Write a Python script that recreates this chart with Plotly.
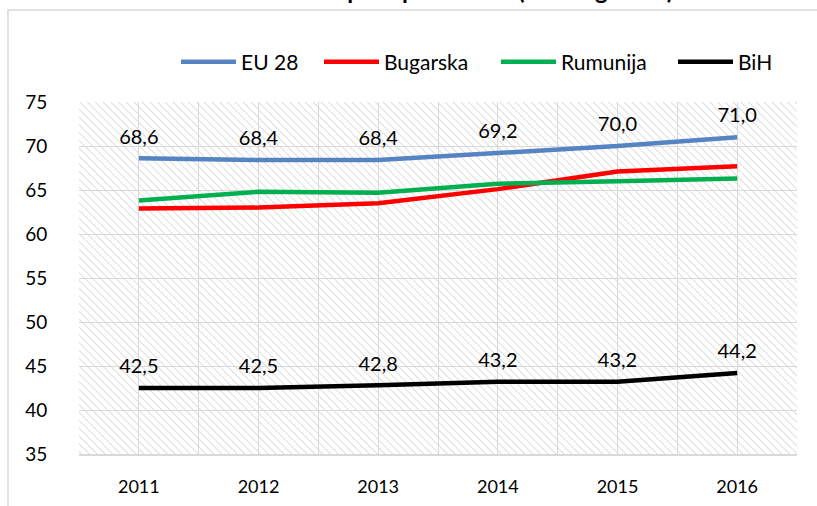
import base64
import plotly.graph_objects as go

years = [2011, 2012, 2013, 2014, 2015, 2016]
series_names = ["EU 28", "Bugarska", "Rumunija", "BiH"]
eu28 = [68.6, 68.4, 68.4, 69.2, 70.0, 71.0]
bugarska = [62.9, 63.0, 63.5, 65.1, 67.1, 67.7]
rumunija = [63.8, 64.8, 64.7, 65.7, 66.0, 66.3]
bih = [42.5, 42.5, 42.8, 43.2, 43.2, 44.2]
title_text = "Stopa zaposlenosti (20-64 godine)"

colors = ["#5683C2", "#FF0000", "#00B050", "#000000"]
labelled = [True, False, False, True]
values = [eu28, bugarska, rumunija, bih]
legend_ids = ["legend", "legend2", "legend3", "legend4"]
legend_left_px = [180, 323, 500, 677]

FONT = "Lato, 'Open Sans', sans-serif"
W, H = 817, 506

fig = go.Figure()
for name, vals, col, lab, lid in zip(series_names, values, colors, labelled, legend_ids):
    fig.add_trace(go.Scatter(
        x=years, y=vals, name=name, legend=lid,
        mode="lines+markers+text" if lab else "lines",
        line=dict(color=col, width=4.5),
        marker=dict(size=14, color="rgba(0,0,0,0)", line=dict(width=0)),
        text=[f"{v:.1f}".replace(".", ",") for v in vals] if lab else None,
        textposition="top center",
        textfont=dict(size=20, color="#000000", family=FONT),
        cliponaxis=False,
        hoverinfo="skip",
    ))

svg = ("<svg xmlns='http://www.w3.org/2000/svg' width='718' height='352'>"
       "<defs><pattern id='p' width='5.5' height='5.5' patternUnits='userSpaceOnUse' "
       "patternTransform='rotate(-45)'><line x1='0' y1='0' x2='0' y2='5.5' "
       "stroke='#d6d6d6' stroke-width='1.6'/></pattern></defs>"
       "<rect width='718' height='352' fill='url(#p)'/></svg>")
src = "data:image/svg+xml;base64," + base64.b64encode(svg.encode()).decode()

fig.add_layout_image(dict(
    source=src, xref="paper", yref="paper", x=0, y=1, sizex=1, sizey=1,
    xanchor="left", yanchor="top", sizing="stretch", layer="below",
))

# outer chart frame (extends past the window edges)
fig.add_shape(type="rect", xref="paper", yref="paper",
              x0=-0.0989, x1=1.3, y0=-0.5, y1=1.2614,
              line=dict(color="#D9D9D9", width=1.5), fillcolor="rgba(0,0,0,0)",
              layer="below")

# title sits above the frame and is mostly cut off by the window top
fig.add_annotation(text="<b>" + title_text + "</b>", xref="paper", yref="paper",
                   x=(492 - 79) / 718, y=(454 + 11) / 352, xanchor="center", yanchor="middle",
                   showarrow=False, font=dict(size=24, color="#000000", family=FONT))

legend_common = dict(orientation="h", yref="container", y=1 - 62 / H, yanchor="middle",
                     xref="container", xanchor="left",
                     font=dict(size=21, family=FONT, color="#000000"), itemwidth=55,
                     bgcolor="rgba(0,0,0,0)", borderwidth=0)
legends = {}
for lid, px in zip(legend_ids, legend_left_px):
    legends[lid] = dict(legend_common, x=(px - 4) / W)

fig.update_layout(
    width=W, height=H,
    margin=dict(l=79, r=20, t=102, b=52, autoexpand=False),
    paper_bgcolor="#FFFFFF", plot_bgcolor="rgba(0,0,0,0)",
    font=dict(family=FONT, size=18, color="#000000"),
    showlegend=True,
    xaxis=dict(range=[2010.5, 2016.5], tickvals=years, ticktext=[str(y) for y in years],
               showgrid=True, gridcolor="#D9D9D9", gridwidth=1,
               minor=dict(dtick=0.5, tick0=2010.5, showgrid=True, gridcolor="#D9D9D9", gridwidth=1),
               ticks="outside", ticklen=16, tickcolor="rgba(0,0,0,0)",
               tickfont=dict(size=18, family=FONT),
               showline=True, linecolor="#D9D9D9", linewidth=1.5, mirror=False,
               zeroline=False, fixedrange=True, automargin=False),
    yaxis=dict(range=[35, 75], dtick=5, tick0=35,
               showgrid=True, gridcolor="#D9D9D9", gridwidth=1,
               ticks="outside", ticklen=27, tickcolor="rgba(0,0,0,0)",
               tickfont=dict(size=19, family=FONT),
               showline=False, zeroline=False, fixedrange=True, automargin=False),
    **legends,
)

fig.write_html("out.html", config={"displayModeBar": False},
               post_script="document.body.style.margin='0';document.body.style.overflow='hidden';")
